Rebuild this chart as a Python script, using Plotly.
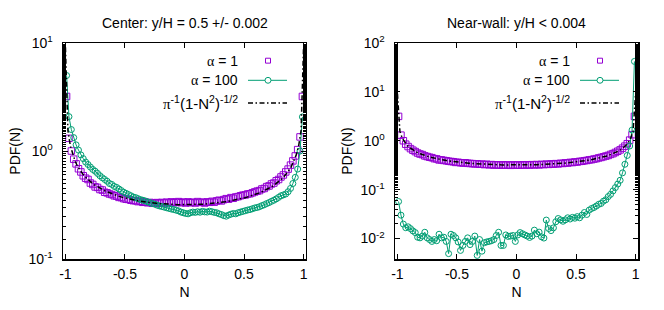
import numpy as np
import plotly.graph_objects as go
from plotly.subplots import make_subplots

# ---------------- data ----------------
# bin centres of N (bin width 0.02)
N = [round(-0.99 + 0.02 * i, 2) for i in range(100)]

center_a1 = [3.2, 1.31, 1.0, 0.84, 0.76, 0.685, 0.64, 0.59, 0.56, 0.545,
             0.505, 0.49, 0.465, 0.46, 0.44, 0.435, 0.415, 0.41, 0.40, 0.395,
             0.385, 0.382, 0.372, 0.37, 0.362, 0.358, 0.356, 0.35, 0.347, 0.346,
             0.34, 0.342, 0.335, 0.336, 0.332, 0.334, 0.328, 0.33, 0.333, 0.328,
             0.334, 0.33, 0.336, 0.33, 0.338, 0.332, 0.336, 0.34, 0.332, 0.337,
             0.33, 0.338, 0.332, 0.336, 0.33, 0.34, 0.334, 0.336, 0.33, 0.338,
             0.335, 0.342, 0.336, 0.345, 0.35, 0.345, 0.355, 0.362, 0.358, 0.37,
             0.365, 0.375, 0.378, 0.385, 0.39, 0.392, 0.40, 0.402, 0.41, 0.418,
             0.425, 0.43, 0.445, 0.45, 0.468, 0.475, 0.495, 0.505, 0.53, 0.545,
             0.575, 0.60, 0.64, 0.68, 0.74, 0.81, 0.90, 1.03, 1.35, 3.2]

center_a100 = [5.0, 2.08, 1.58, 1.33, 1.14, 1.02, 0.92, 0.85, 0.79, 0.75,
               0.71, 0.675, 0.65, 0.62, 0.59, 0.565, 0.545, 0.525, 0.50, 0.49,
               0.47, 0.46, 0.445, 0.43, 0.415, 0.405, 0.395, 0.385, 0.375, 0.37,
               0.362, 0.355, 0.35, 0.345, 0.338, 0.333, 0.326, 0.322, 0.315, 0.31,
               0.306, 0.302, 0.298, 0.294, 0.29, 0.287, 0.283, 0.279, 0.272, 0.268,
               0.264, 0.262, 0.268, 0.272, 0.27, 0.274, 0.271, 0.276, 0.273, 0.272,
               0.277, 0.274, 0.27, 0.268, 0.262, 0.258, 0.252, 0.249, 0.255, 0.26,
               0.264, 0.262, 0.268, 0.272, 0.276, 0.28, 0.284, 0.287, 0.292, 0.297,
               0.30, 0.305, 0.312, 0.318, 0.326, 0.333, 0.342, 0.35, 0.36, 0.372,
               0.385, 0.392, 0.40, 0.42, 0.45, 0.50, 0.57, 0.68, 1.0, 2.07]

wall_a1 = [3.15, 1.3, 1.0, 0.85, 0.76, 0.69, 0.64, 0.60, 0.56, 0.535,
           0.52, 0.49, 0.475, 0.46, 0.45, 0.43, 0.425, 0.405, 0.405, 0.395,
           0.39, 0.38, 0.376, 0.372, 0.36, 0.362, 0.355, 0.35, 0.354, 0.345,
           0.343, 0.34, 0.336, 0.338, 0.33, 0.332, 0.325, 0.33, 0.322, 0.325,
           0.318, 0.322, 0.32, 0.315, 0.322, 0.316, 0.32, 0.314, 0.321, 0.316,
           0.32, 0.315, 0.322, 0.317, 0.323, 0.318, 0.324, 0.32, 0.326, 0.321,
           0.328, 0.325, 0.331, 0.328, 0.335, 0.332, 0.34, 0.336, 0.345, 0.343,
           0.352, 0.35, 0.36, 0.358, 0.368, 0.367, 0.378, 0.38, 0.39, 0.395,
           0.405, 0.41, 0.422, 0.43, 0.445, 0.455, 0.47, 0.485, 0.50, 0.525,
           0.545, 0.575, 0.61, 0.65, 0.705, 0.775, 0.87, 1.03, 1.33, 3.15]

wall_a100 = [0.057, 0.030, 0.0197, 0.0166, 0.0173, 0.0159, 0.0143, 0.0132, 0.0106, 0.0103,
             0.0112, 0.0134, 0.0103, 0.0095, 0.0087, 0.0095, 0.009, 0.0122, 0.0103, 0.0106,
             0.0087, 0.0049, 0.0122, 0.0115, 0.0103, 0.0085, 0.0057, 0.0072, 0.0087, 0.0103,
             0.0075, 0.0087, 0.0112, 0.0045, 0.0095, 0.0055, 0.0082, 0.0085, 0.0087, 0.009,
             0.0095, 0.0115, 0.0134, 0.0072, 0.0072, 0.0118, 0.011, 0.0112, 0.0115, 0.0087,
             0.0118, 0.0132, 0.0125, 0.0118, 0.0112, 0.0105, 0.0112, 0.0148, 0.0125, 0.0135,
             0.0108, 0.0102, 0.0238, 0.016, 0.0145, 0.0165, 0.022, 0.0256, 0.024, 0.0225,
             0.024, 0.0265, 0.025, 0.027, 0.026, 0.028, 0.0265, 0.030, 0.034, 0.031,
             0.038, 0.041, 0.043, 0.046, 0.050, 0.052, 0.058, 0.062, 0.072, 0.080,
             0.094, 0.11, 0.13, 0.155, 0.22, 0.33, 0.50, 0.78, 1.65, 42.0]

# analytic curve pi^-1 (1-N^2)^-1/2, sampled like gnuplot (100 samples on the x range)
N_th = np.linspace(-1.02, 1.02, 100)
N_th = N_th[np.abs(N_th) < 1]
pdf_th = 1.0 / (np.pi * np.sqrt(1.0 - N_th ** 2))

x_ticks = [-1, -0.5, 0, 0.5, 1]
x_ticktext = ["-1", "-0.5", "0", "0.5", "1"]
y_ticks_left = [0.1, 1, 10]
y_ticktext_left = ["10<sup>-1</sup>", "10<sup>0</sup>", "10<sup>1</sup>"]
y_ticks_right = [0.01, 0.1, 1, 10, 100]
y_ticktext_right = ["10<sup>-2</sup>", "10<sup>-1</sup>", "10<sup>0</sup>", "10<sup>1</sup>", "10<sup>2</sup>"]
titles = ["Center: y/H = 0.5 +/- 0.002", "Near-wall: y/H < 0.004"]

PURPLE = "#9400d3"
GREEN = "#009e73"
FONT = "Liberation Sans, Arial, sans-serif"
SERIF = "Liberation Serif, DejaVu Serif, serif"

# ---------------- layout geometry ----------------
W, H = 664, 310
ML, MR, MT, MB = 63, 26, 43, 47
PW, PH = W - ML - MR, H - MT - MB


def px(xp):
    return (xp - ML) / PW


def py(yp):
    return 1 - (yp - MT) / PH


fig = make_subplots(rows=1, cols=2, horizontal_spacing=0.1548)

for col, (a1, a100) in enumerate([(center_a1, center_a100), (wall_a1, wall_a100)], start=1):
    fig.add_trace(go.Scatter(x=N, y=a1, mode="markers",
                             marker=dict(symbol="square-open", size=6.5, color=PURPLE,
                                         line=dict(width=1, color=PURPLE)),
                             showlegend=False, hoverinfo="skip"), row=1, col=col)
    fig.add_trace(go.Scatter(x=N, y=a100, mode="lines+markers",
                             line=dict(color=GREEN, width=1),
                             marker=dict(symbol="circle-open", size=6, color=GREEN,
                                         line=dict(width=1, color=GREEN)),
                             showlegend=False, hoverinfo="skip"), row=1, col=col)
    fig.add_trace(go.Scatter(x=N_th, y=pdf_th, mode="lines",
                             line=dict(color="black", width=1.5, dash="5px,2.5px,1.5px,2.5px"),
                             showlegend=False, hoverinfo="skip"), row=1, col=col)

axis_common = dict(showline=True, linecolor="black", linewidth=1.5, mirror="ticks",
                   ticks="inside", ticklen=5, tickwidth=1, tickcolor="black",
                   showgrid=False, zeroline=False,
                   tickfont=dict(family=FONT, size=14, color="black"))

for i, (yr, tv, tt) in enumerate([([-1, 1], y_ticks_left, y_ticktext_left),
                                   ([-2.42, 2], y_ticks_right, y_ticktext_right)], start=1):
    fig.update_xaxes(range=[-1.02, 1.02], tickvals=x_ticks, ticktext=x_ticktext,
                     ticklabelstandoff=2,
                     title=dict(text="N", font=dict(family=FONT, size=14, color="black"), standoff=6),
                     row=1, col=i, **axis_common)
    fig.update_yaxes(type="log", range=yr, tickvals=tv, ticktext=tt,
                     ticklabelstandoff=6,
                     minor=dict(ticks="inside", ticklen=3, tickcolor="black", showgrid=False),
                     title=dict(text="PDF(N)", font=dict(family=FONT, size=14, color="black"), standoff=4),
                     row=1, col=i, **axis_common)

# panel titles
annotations = []
for i, t in enumerate(titles):
    cx = [184.5, 516.5][i]
    annotations.append(dict(text=t, x=px(cx), y=py(23), xref="paper", yref="paper",
                            showarrow=False, xanchor="center", yanchor="middle",
                            font=dict(family=FONT, size=14, color="black")))

# legends (gnuplot style: text right-aligned, sample to the right)
shapes = []
sym = lambda s: "<span style='font-family:%s'>%s</span>" % (SERIF, s)
leg_labels = [sym("α") + " = 1", sym("α") + " = 100",
              sym("π") + "<sup>-1</sup>(1-N<sup>2</sup>)<sup>-1/2</sup>"]
leg_sizes = [14, 14, 15]
leg_y = [61, 81, 104]
for off in [0, 332]:
    tx = 240 + off
    for lab, ly, fs in zip(leg_labels, leg_y, leg_sizes):
        annotations.append(dict(text=lab, x=px(tx), y=py(ly), xref="paper", yref="paper",
                                showarrow=False, xanchor="right", yanchor="middle",
                                font=dict(family=FONT, size=fs, color="black")))
    mx = 268 + off
    # square sample
    shapes.append(dict(type="rect", xref="paper", yref="paper",
                       x0=px(mx - 2.5), x1=px(mx + 2.5), y0=py(61 - 2.5), y1=py(61 + 2.5),
                       line=dict(color=PURPLE, width=1)))
    # line + circle sample
    shapes.append(dict(type="line", xref="paper", yref="paper",
                       x0=px(248 + off), x1=px(287 + off), y0=py(81), y1=py(81),
                       line=dict(color=GREEN, width=1)))
    shapes.append(dict(type="circle", xref="paper", yref="paper",
                       x0=px(mx - 3), x1=px(mx + 3), y0=py(81 - 3), y1=py(81 + 3),
                       line=dict(color=GREEN, width=1), fillcolor="white"))
    # dash-dot sample
    shapes.append(dict(type="line", xref="paper", yref="paper",
                       x0=px(248 + off), x1=px(287 + off), y0=py(104), y1=py(104),
                       line=dict(color="black", width=1.5, dash="5px,2.5px,1.5px,2.5px")))

fig.update_layout(width=W, height=H, margin=dict(l=ML, r=MR, t=MT, b=MB),
                  paper_bgcolor="white", plot_bgcolor="white",
                  font=dict(family=FONT, size=14, color="black"),
                  hovermode=False,
                  annotations=annotations, shapes=shapes, showlegend=False)

fig.write_html("out.html", config={"displayModeBar": False, "staticPlot": True},
               post_script="document.body.style.margin='0';document.body.style.padding='0';")
